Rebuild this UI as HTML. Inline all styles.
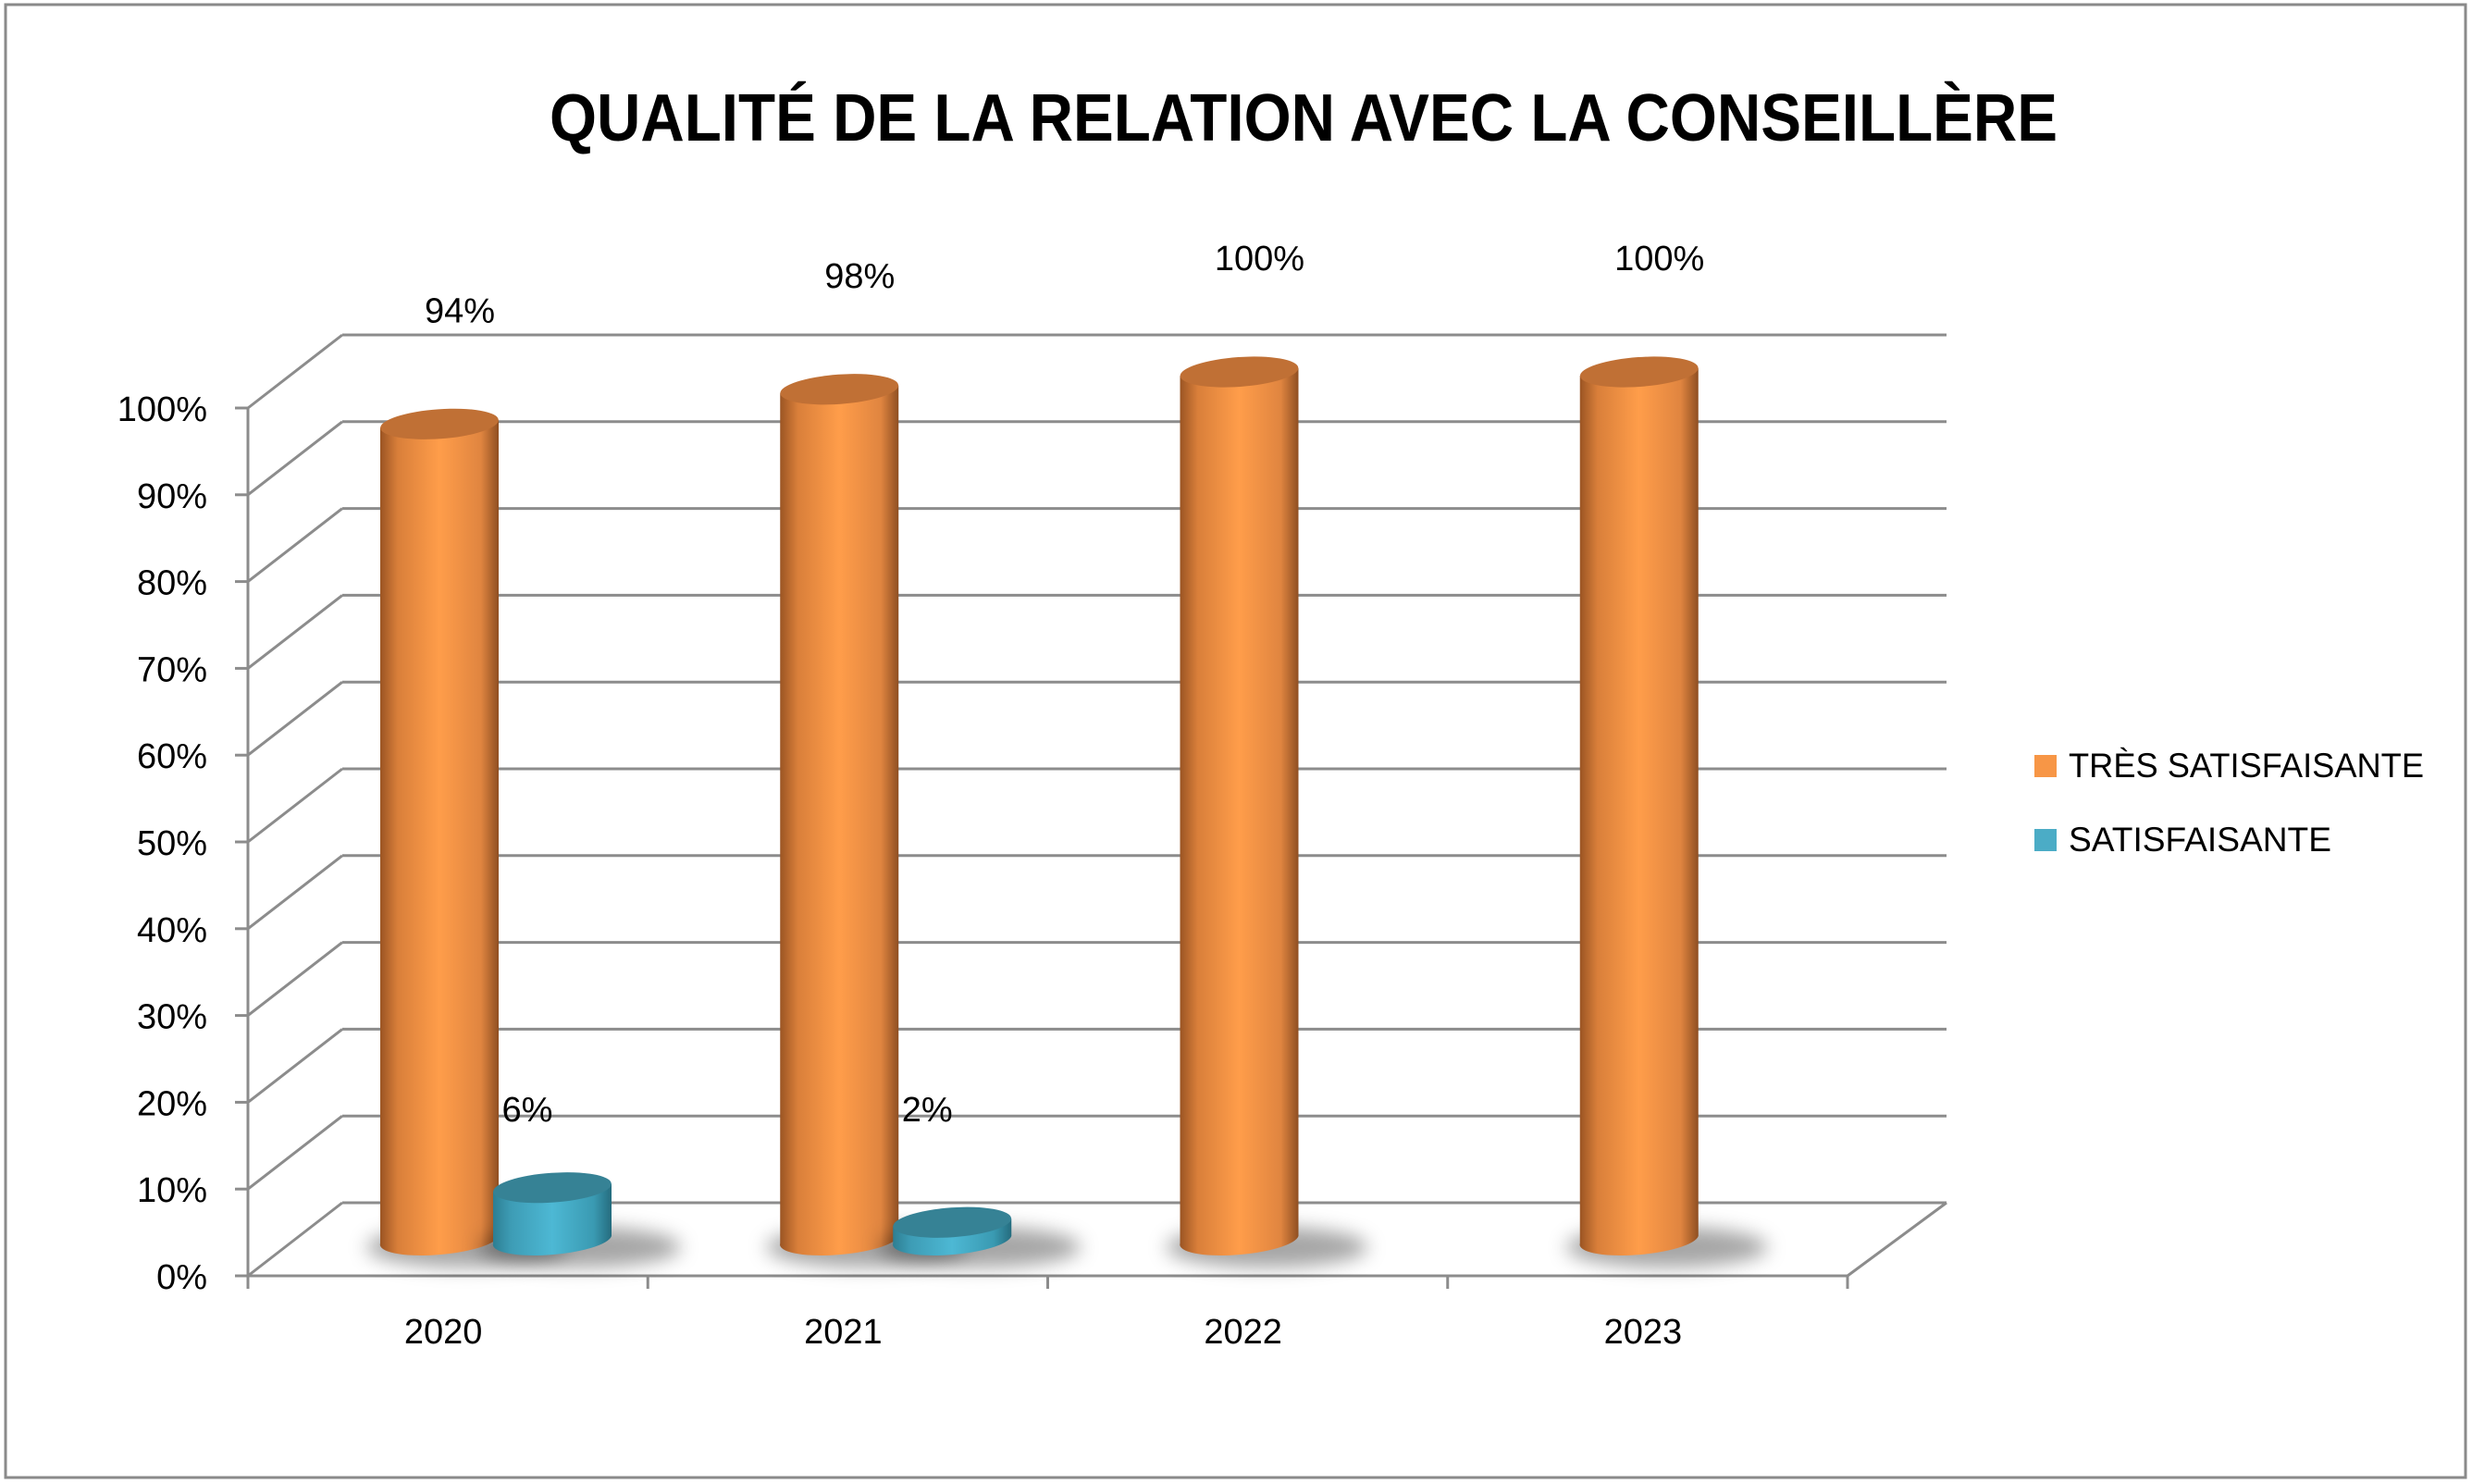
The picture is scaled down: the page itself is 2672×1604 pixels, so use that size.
<!DOCTYPE html>
<html><head><meta charset="utf-8"><style>
html,body{margin:0;padding:0;background:#fff}
svg{display:block}
text{font-family:"Liberation Sans",sans-serif;fill:#000}
</style></head><body>
<svg id="chart" width="2672" height="1604" viewBox="0 0 2672 1604" xmlns="http://www.w3.org/2000/svg">
<defs>
<linearGradient id="og" x1="0" x2="1" y1="0" y2="0">
<stop offset="0" stop-color="#9a5423"/><stop offset="0.15" stop-color="#d97f3a"/><stop offset="0.5" stop-color="#ff9d4a"/><stop offset="0.85" stop-color="#e08540"/><stop offset="1" stop-color="#8f4f22"/></linearGradient>
<linearGradient id="bg" x1="0" x2="1" y1="0" y2="0">
<stop offset="0" stop-color="#2d7e92"/><stop offset="0.15" stop-color="#3d9cb5"/><stop offset="0.5" stop-color="#4db8d4"/><stop offset="0.85" stop-color="#3a9ab2"/><stop offset="1" stop-color="#256c7e"/></linearGradient>
<filter id="blur" x="-50%" y="-100%" width="200%" height="300%"><feGaussianBlur stdDeviation="10"/></filter>
</defs>
<rect x="6" y="5" width="2659" height="1592" fill="#fff" stroke="#8a8a8a" stroke-width="3"/>
<text x="1409" y="152" text-anchor="middle" font-size="72" font-weight="bold" textLength="1630" lengthAdjust="spacingAndGlyphs">QUALITÉ DE LA RELATION AVEC LA CONSEILLÈRE</text>
<g id="grid"></g>
<g id="marks"></g>
<g>
<rect x="2199" y="816" width="24" height="24" fill="#f79646"/>
<text x="2236" y="840" font-size="37" textLength="384" lengthAdjust="spacingAndGlyphs">TRÈS SATISFAISANTE</text>
<rect x="2199" y="896" width="24" height="24" fill="#4bacc6"/>
<text x="2236" y="920" font-size="37" textLength="284" lengthAdjust="spacingAndGlyphs">SATISFAISANTE</text>
</g>
</svg>
<script>
const categories = ["2020","2021","2022","2023"];
const tresSatisfaisante = [94,98,100,100];
const satisfaisante = [6,2,null,null];
const yTicks = [0,10,20,30,40,50,60,70,80,90,100];
const yTickLabels = ["0%","10%","20%","30%","40%","50%","60%","70%","80%","90%","100%"];

const NS="http://www.w3.org/2000/svg";
const X0=268, X1=1997, Y0=1379, PER=9.38, DX=102, DY=-79;
const BASE=1340;
function yFront(v){return Y0 - v*PER;}
function yBar(v){return BASE - v*PER;}
const catW=(X1-X0)/categories.length;
function xCat(i){return X0 + i*catW;}
function mk(tag,attrs,parent){const e=document.createElementNS(NS,tag);for(const k in attrs)e.setAttribute(k,attrs[k]);parent.appendChild(e);return e;}
const grid=document.getElementById('grid');
const marks=document.getElementById('marks');
const G="#8c8c8c";
// back wall gridlines + side diagonals
yTicks.forEach((t,i)=>{
  const yf=yFront(t);
  const l=mk('line',{x1:X0+DX,y1:yf+DY,x2:X1+DX+5,y2:yf+DY,stroke:G,'stroke-width':3},grid);
  
  
  const d=mk('line',{x1:X0,y1:yf,x2:X0+DX,y2:yf+DY,stroke:G,'stroke-width':3},grid);
  
  
  const tk=mk('line',{x1:X0-14,y1:yf,x2:X0,y2:yf,stroke:G,'stroke-width':3},grid);
  
  
  const tx=mk('text',{x:224,y:yf+14,'text-anchor':'end','font-size':38},grid);
  tx.textContent=yTickLabels[i];
  
  
});
// axes
let a=mk('line',{x1:X0,y1:yFront(100),x2:X0,y2:Y0+14,stroke:G,'stroke-width':3},grid);


a=mk('line',{x1:X0,y1:Y0,x2:X1,y2:Y0,stroke:G,'stroke-width':3},grid);


a=mk('line',{x1:X1,y1:Y0,x2:X1+DX+5,y2:Y0+DY,stroke:G,'stroke-width':3},grid);


for(let i=0;i<=categories.length;i++){
  const t=mk('line',{x1:xCat(i),y1:Y0,x2:xCat(i),y2:Y0+14,stroke:G,'stroke-width':3},grid);
  
  
}
categories.forEach((c,i)=>{
  const t=mk('text',{x:xCat(i)+catW/2-5,y:1452,'text-anchor':'middle','font-size':38},grid);
  t.textContent=c;
  
  
});
const RX=64, RY=16;
function cylinder(cx,v,fill,top,name){
  const g=mk('g',{},marks);
  
  
  const yb=BASE, yt=yBar(v);
  const sh=mk('ellipse',{cx:cx+30,cy:yb+8,rx:RX+45,ry:RY+6,fill:'#000','fill-opacity':0.35,filter:'url(#blur)'},g);
  
  
  const body=mk('path',{d:`M${cx-RX},${yt+4} L${cx-RX},${yb+4} A${RX},${RY} -5 0 0 ${cx+RX},${yb-4} L${cx+RX},${yt-4} Z`,fill:fill},g);
  
  
  const tp=mk('ellipse',{cx:cx,cy:yt,rx:RX,ry:RY,fill:top,transform:`rotate(-4 ${cx} ${yt})`},g);
  
  
}
function label(x,y,txt,name){
  const t=mk('text',{x:x,y:y,'text-anchor':'middle','font-size':38},marks);
  t.textContent=txt;
  
  
}
categories.forEach((c,i)=>{
  const cx=xCat(i)+143+RX;
  const v=tresSatisfaisante[i];
  cylinder(cx,v,'url(#og)','#c07035','bar-tres-satisfaisante-'+c);
  const s=satisfaisante[i];
  if(s!==null){
    cylinder(cx+122,s,'url(#bg)','#368295','bar-satisfaisante-'+c);
  }
});
categories.forEach((c,i)=>{
  const cx=xCat(i)+143+RX;
  const v=tresSatisfaisante[i];
  label(cx+22,yBar(v)-110,v+'%','value-label-tres-satisfaisante-'+c);
  const s=satisfaisante[i];
  if(s!==null) label(cx+95,1212,s+'%','value-label-satisfaisante-'+c);
});
</script>
</body></html>
